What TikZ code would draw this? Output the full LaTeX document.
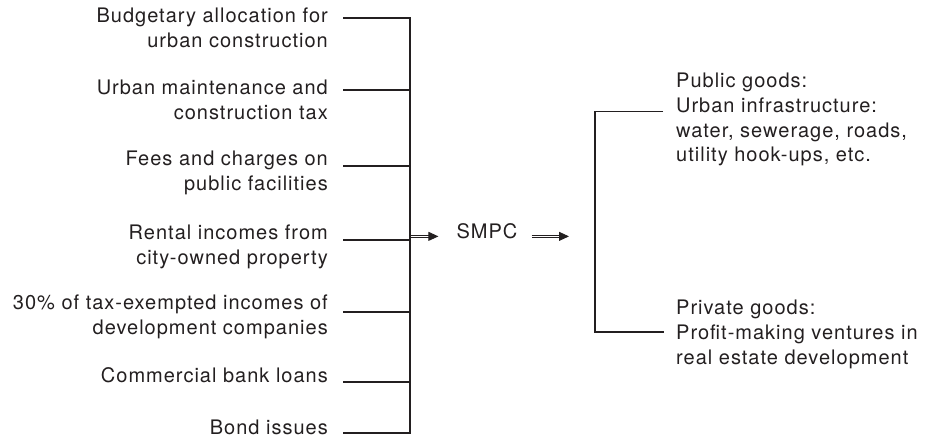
\documentclass[tikz,border=0pt]{standalone}
\usepackage{fontspec}
\setmainfont{TeX Gyre Heros}[LetterSpace=5]
\usetikzlibrary{arrows.meta,calc}
\definecolor{ink}{HTML}{231F20}
\tikzset{
	lbl/.style={inner sep=0pt,align=right,anchor=base east,text=ink,font=\fontsize{20}{24.6}\selectfont},
	rlbl/.style={lbl,align=left,anchor=base west},
	bar/.style={draw=ink,line width=1.6pt},
	dblarrow/.style={draw=ink,line width=0.9pt,double=white,double distance=1.6pt,-{Triangle[length=10pt,width=9pt]}},
}
\begin{document}
\begin{tikzpicture}[x=1pt,y=-1pt]
\useasboundingbox (0,0) rectangle (930,438);
\coordinate (bus) at (410,0);
\foreach \txt/\by/\ly [count=\i] in {
	Budgetary allocation for\\urban construction/47.6/18,
	Urban maintenance and\\construction tax/119.6/90,
	Fees and charges on\\public facilities/190.6/166,
	Rental incomes from\\city-owned property/264.6/240,
	30\% of tax-exempted incomes of\\development companies/334.6/312,
	Commercial bank loans/383/382,
	Bond issues/435/433}
{
	\node[lbl] (src\i) at (328,\by) {\txt};
	\coordinate (b\i) at (410,\ly);
	\draw[bar] (src\i.east |- b\i) ++(15,0) -- (b\i);
}
\draw[bar,line cap=rect] (b1) -- (b7);
\node[lbl,anchor=base] (smpc) at (487,239) {SMPC};
\coordinate (fork) at (595,234);
\draw[dblarrow] (bus |- smpc.mid) ++(1,0) -- ([xshift=-18pt]smpc.mid west);
\draw[dblarrow] ([xshift=14pt]smpc.mid east) -- ([xshift=-26pt]fork |- smpc.mid);
\node[rlbl] (pub) at (676,161.8) {Public goods:\\Urban infrastructure:\\water, sewerage, roads,\\utility hook-ups, etc.};
\node[rlbl] (priv) at (676,364.2) {Private goods:\\Profit-making ventures in\\real estate development};
\coordinate (tp) at (663,112);
\coordinate (bt) at (663,332);
\draw[draw=ink,line width=1pt] (tp) -- (tp -| fork);
\draw[bar,line cap=rect] (tp -| fork) |- (bt);
\end{tikzpicture}
\end{document}
